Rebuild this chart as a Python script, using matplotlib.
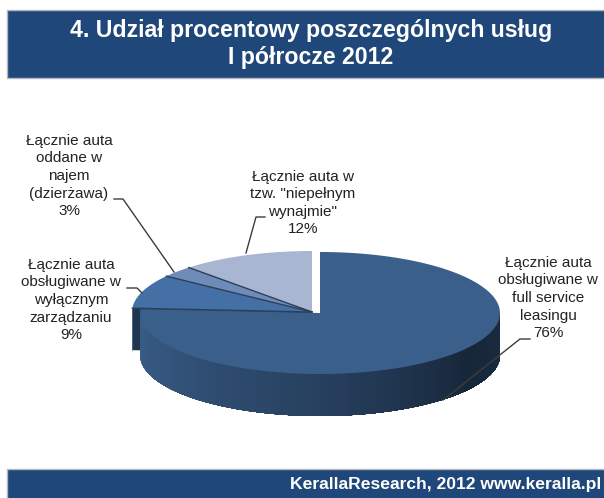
import matplotlib
matplotlib.use("Agg")
import matplotlib.pyplot as plt
from matplotlib.patches import Rectangle
from matplotlib.colors import to_rgb
import numpy as np

plt.rcParams['font.family'] = ['Liberation Sans', 'DejaVu Sans']

title = "4. Udział procentowy poszczególnych usług\nI półrocze 2012"
footer = "KerallaResearch, 2012 www.keralla.pl"

# share of each service, counter clockwise from the top
small_names = ["Łącznie auta w\ntzw. \"niepełnym\nwynajmie\"\n12%",
               "Łącznie auta\noddane w\nnajem\n(dzierżawa)\n3%",
               "Łącznie auta\nobsługiwane w\nwyłącznym\nzarządzaniu\n9%"]
small_values = [12, 3, 9]
big_name = "Łącznie auta\nobsługiwane w\nfull service\nleasingu\n76%"
big_value = 76

small_colors = ["#a9b6d1", "#6f8cb9", "#4570a6"]
big_color = "#3a5f8a"
NAVY = "#1f4779"

RX, RY, DEPTH = 180, 61, 42
SMALL_C = (312, 312)
BIG_C = (320, 313)


def ell(c, a):
    a = np.radians(a)
    return c[0] + RX*np.cos(a), c[1] - RY*np.sin(a)


def top_slice(ax, c, a0, a1, color, z):
    t = np.linspace(a0, a1, 120)
    x, y = ell(c, t)
    ax.fill(np.r_[c[0], x], np.r_[c[1], y], color=color, lw=0, zorder=z)


def side_color(a):
    # wall gets darker toward the right hand side
    stops = [180, 270, 325, 360]
    cols = np.array([to_rgb(c) for c in ["#3a5f8a", "#27405f", "#17273a", "#1a2c40"]])
    return tuple(np.interp(a, stops, cols[:, i]) for i in range(3))


fig = plt.figure(figsize=(6.04, 4.98), dpi=100)
ax = fig.add_axes([0, 0, 1, 1])
ax.set_xlim(0, 604)
ax.set_ylim(498, 0)
ax.axis("off")

# header and footer bands
ax.add_patch(Rectangle((7, 9.5), 600, 68, fc=NAVY, ec="#b4b8bd", lw=1))
ax.add_patch(Rectangle((7, 469), 600, 32, fc=NAVY, ec="#b4b8bd", lw=1))
ax.text(311, 44, title, color="white", fontsize=16.7, fontweight="bold",
        ha="center", va="center", linespacing=1.2)
ax.text(601, 484, footer, color="white", fontsize=12.6, fontweight="bold",
        ha="right", va="center")

# small slices, pulled apart from the big one
start = 90
edges = [start]
for v in small_values:
    edges.append(edges[-1] + v*3.6)

# cut face of the small slices
ex, ey = ell(SMALL_C, edges[-1])
ax.fill([SMALL_C[0], ex, ex, SMALL_C[0]], [SMALL_C[1], ey, ey + DEPTH, SMALL_C[1] + DEPTH],
        color="#1f3650", lw=0, zorder=1)
t = np.linspace(edges[-1], 180, 10)
x, y = ell(SMALL_C, t)
ax.fill(np.r_[x, x[::-1]], np.r_[y, y[::-1] + DEPTH], color="#1f3650", lw=0, zorder=1)

for i, v in enumerate(small_values):
    top_slice(ax, SMALL_C, edges[i], edges[i+1], small_colors[i], 2)
for a in edges[1:]:
    x, y = ell(SMALL_C, a)
    ax.plot([SMALL_C[0], x], [SMALL_C[1], y], color="#2b3f58", lw=1, zorder=3)

# big slice wall then top, each strip overlaps the next so no seams show
big_end = 90 - big_value*3.6 + 360
walls = np.linspace(180, 360, 181)
for a0 in walls[:-1]:
    t = np.linspace(a0, 360, 40)
    x, y = ell(BIG_C, t)
    ax.fill(np.r_[x, x[::-1]], np.r_[y, y[::-1] + DEPTH], color=side_color(a0), lw=0, zorder=4)
top_slice(ax, BIG_C, big_end, 450, big_color, 5)

# labels
leader = dict(color="#3c3c3c", lw=1, zorder=7)
ax.plot([114, 123, 174], [199, 199, 272], **leader)
ax.plot([127, 137, 142], [288, 288, 293], **leader)
ax.plot([265, 256, 246], [217, 217, 253], **leader)
ax.plot([530, 520, 443], [339, 339, 400], **leader)

text_kw = dict(fontsize=11, color="#222222", ha="center", va="center", linespacing=1.32, zorder=8)
ax.text(303, 203, small_names[0], **text_kw)
ax.text(69, 176, small_names[1], **text_kw)
ax.text(71, 300, small_names[2], **text_kw)
ax.text(548, 298, big_name, **text_kw)

fig.savefig("out.png", dpi=100, facecolor="white")
